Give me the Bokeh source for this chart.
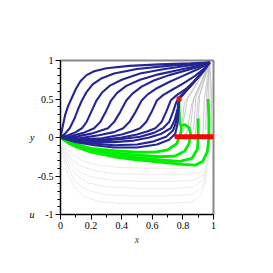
from bokeh.plotting import figure
from bokeh.models import FixedTicker, LinearAxis, Range1d
from bokeh.embed import file_html
from bokeh.resources import INLINE

# ---- data ----
blue_x = [
    [0, 0.015, 0.03, 0.05, 0.075, 0.1, 0.13, 0.17, 0.22, 0.3, 0.45, 0.65, 0.85, 0.975],
    [0, 0.03, 0.06, 0.09, 0.115, 0.14, 0.17, 0.21, 0.27, 0.35, 0.5, 0.7, 0.87, 0.975],
    [0, 0.05, 0.1, 0.14, 0.17, 0.2, 0.235, 0.27, 0.32, 0.4, 0.52, 0.68, 0.84, 0.975],
    [0, 0.07, 0.15, 0.22, 0.26, 0.295, 0.33, 0.37, 0.43, 0.52, 0.64, 0.78, 0.9, 0.975],
    [0, 0.1, 0.2, 0.31, 0.35, 0.39, 0.43, 0.47, 0.53, 0.61, 0.71, 0.82, 0.92, 0.975],
    [0, 0.12, 0.25, 0.35, 0.41, 0.45, 0.49, 0.53, 0.57, 0.63, 0.71, 0.8, 0.9, 0.975],
    [0, 0.13, 0.27, 0.4, 0.47, 0.52, 0.56, 0.595, 0.63, 0.67, 0.73, 0.8, 0.88, 0.935, 0.975],
    [0, 0.13, 0.27, 0.4, 0.5, 0.57, 0.62, 0.66, 0.69, 0.72, 0.76, 0.82, 0.88, 0.935, 0.975],
    [0, 0.13, 0.27, 0.4, 0.52, 0.61, 0.67, 0.71, 0.735, 0.755, 0.775, 0.81, 0.86, 0.92, 0.975],
    [0, 0.1, 0.22, 0.35, 0.48, 0.58, 0.66, 0.72, 0.745, 0.765, 0.775, 0.81, 0.86, 0.92, 0.975],
    [0, 0.1, 0.22, 0.35, 0.5, 0.61, 0.69, 0.735, 0.755, 0.768, 0.775, 0.81, 0.86, 0.92, 0.975],
    [0, 0.1, 0.22, 0.35, 0.5, 0.63, 0.71, 0.75, 0.765, 0.772, 0.775, 0.81, 0.86, 0.92, 0.975],
]
blue_y = [
    [0, 0.15, 0.29, 0.41, 0.52, 0.63, 0.73, 0.81, 0.86, 0.9, 0.93, 0.95, 0.965, 0.975],
    [0, 0.05, 0.12, 0.24, 0.37, 0.48, 0.59, 0.69, 0.77, 0.83, 0.89, 0.93, 0.955, 0.975],
    [0, 0.03, 0.07, 0.12, 0.2, 0.33, 0.48, 0.58, 0.67, 0.75, 0.83, 0.89, 0.935, 0.975],
    [0, 0.02, 0.06, 0.12, 0.2, 0.33, 0.48, 0.58, 0.67, 0.75, 0.82, 0.88, 0.93, 0.975],
    [0, 0.01, 0.05, 0.12, 0.2, 0.33, 0.48, 0.57, 0.66, 0.74, 0.81, 0.87, 0.93, 0.975],
    [0, -0.01, 0.03, 0.07, 0.12, 0.2, 0.33, 0.48, 0.56, 0.64, 0.72, 0.8, 0.89, 0.975],
    [0, -0.02, -0.01, 0.04, 0.08, 0.12, 0.2, 0.33, 0.48, 0.55, 0.62, 0.7, 0.8, 0.89, 0.975],
    [0, -0.03, -0.03, 0.0, 0.04, 0.08, 0.12, 0.2, 0.33, 0.48, 0.55, 0.63, 0.74, 0.86, 0.975],
    [0, -0.035, -0.04, -0.02, 0.01, 0.06, 0.12, 0.2, 0.33, 0.45, 0.52, 0.59, 0.7, 0.84, 0.975],
    [0, -0.04, -0.06, -0.06, -0.04, 0.0, 0.05, 0.12, 0.22, 0.37, 0.5, 0.58, 0.69, 0.83, 0.975],
    [0, -0.05, -0.08, -0.1, -0.09, -0.05, 0.01, 0.09, 0.2, 0.35, 0.5, 0.58, 0.69, 0.83, 0.975],
    [0, -0.06, -0.1, -0.13, -0.13, -0.09, -0.03, 0.05, 0.18, 0.34, 0.5, 0.58, 0.69, 0.83, 0.975],
]

green_x = [
    [0, 0.05, 0.1, 0.2, 0.35, 0.5, 0.62, 0.7, 0.76, 0.785, 0.79, 0.78, 0.775, 0.775],
    [0, 0.05, 0.1, 0.2, 0.35, 0.5, 0.65, 0.75, 0.81, 0.84, 0.85, 0.84, 0.81, 0.795],
    [0, 0.05, 0.1, 0.2, 0.35, 0.5, 0.65, 0.78, 0.86, 0.895, 0.9, 0.9],
    [0, 0.05, 0.1, 0.2, 0.35, 0.5, 0.65, 0.8, 0.88, 0.93, 0.96, 0.97, 0.97, 0.965],
]
green_y = [
    [0, -0.05, -0.09, -0.14, -0.17, -0.19, -0.19, -0.16, -0.08, 0.05, 0.12, 0.2, 0.35, 0.48],
    [0, -0.06, -0.1, -0.16, -0.2, -0.23, -0.25, -0.24, -0.18, -0.08, 0.05, 0.13, 0.17, 0.15],
    [0, -0.065, -0.11, -0.18, -0.23, -0.26, -0.29, -0.31, -0.27, -0.15, 0.0, 0.25],
    [0, -0.07, -0.12, -0.19, -0.25, -0.29, -0.32, -0.35, -0.36, -0.31, -0.18, 0.0, 0.25, 0.5],
]

gray_x = [
    [0, 0.03, 0.08, 0.15, 0.25, 0.4, 0.6, 0.8, 0.9, 0.95, 0.975, 0.985, 0.99, 0.985, 0.975],
    [0, 0.03, 0.07, 0.13, 0.22, 0.35, 0.55, 0.8, 0.9, 0.945, 0.97, 0.98, 0.985, 0.98, 0.975],
    [0, 0.03, 0.07, 0.12, 0.2, 0.32, 0.5, 0.75, 0.88, 0.935, 0.96, 0.975, 0.98, 0.978, 0.975],
    [0, 0.025, 0.06, 0.11, 0.18, 0.3, 0.5, 0.75, 0.87, 0.925, 0.955, 0.97, 0.975, 0.975, 0.975],
    [0, 0.025, 0.06, 0.1, 0.17, 0.28, 0.45, 0.7, 0.86, 0.92, 0.95, 0.965, 0.97, 0.972, 0.975],
    [0, 0.02, 0.05, 0.09, 0.15, 0.25, 0.4, 0.65, 0.85, 0.915, 0.945, 0.96, 0.965, 0.97, 0.975],
]
gray_y = [
    [0, -0.12, -0.23, -0.31, -0.36, -0.39, -0.4, -0.4, -0.38, -0.33, -0.22, -0.05, 0.3, 0.7, 0.975],
    [0, -0.15, -0.28, -0.37, -0.43, -0.47, -0.48, -0.48, -0.46, -0.4, -0.28, -0.1, 0.3, 0.7, 0.975],
    [0, -0.18, -0.33, -0.44, -0.51, -0.55, -0.57, -0.57, -0.55, -0.48, -0.35, -0.12, 0.3, 0.7, 0.975],
    [0, -0.2, -0.37, -0.5, -0.59, -0.64, -0.66, -0.66, -0.64, -0.56, -0.42, -0.15, 0.3, 0.7, 0.975],
    [0, -0.24, -0.44, -0.58, -0.68, -0.74, -0.76, -0.76, -0.74, -0.66, -0.5, -0.2, 0.3, 0.7, 0.975],
    [0, -0.26, -0.48, -0.64, -0.76, -0.83, -0.86, -0.86, -0.84, -0.76, -0.6, -0.25, 0.3, 0.7, 0.975],
]

fan_x = [
    [0.8, 0.83, 0.975], [0.85, 0.87, 0.975], [0.9, 0.91, 0.975], [0.965, 0.965, 0.975],
    [0.82, 0.86, 0.975], [0.88, 0.9, 0.975], [0.93, 0.94, 0.975], [0.79, 0.81, 0.975],
    [0.87, 0.885, 0.975], [0.95, 0.955, 0.975], [0.99, 0.985, 0.975],
]
fan_y = [
    [0.17, 0.5, 0.975], [0.13, 0.5, 0.975], [0.25, 0.55, 0.975], [0.5, 0.7, 0.975],
    [0.0, 0.45, 0.975], [0.0, 0.5, 0.975], [0.0, 0.5, 0.975], [0.1, 0.45, 0.975],
    [0.1, 0.52, 0.975], [0.1, 0.55, 0.975], [0.1, 0.6, 0.975],
]

red_line_x = [0.76, 1.0]
red_line_y = [0.01, 0.01]
red_dot_x = [0.775]
red_dot_y = [0.5]

x_ticks = [0, 0.2, 0.4, 0.6, 0.8, 1]
x_minor = [0.1, 0.3, 0.5, 0.7, 0.9]
x_labels = ["0", "0.2", "0.4", "0.6", "0.8", "1"]
y_ticks = [-1, -0.5, 0, 0.5, 1]
y_minor = [-0.9, -0.8, -0.7, -0.6, -0.4, -0.3, -0.2, -0.1, 0.1, 0.2, 0.3, 0.4, 0.6, 0.7, 0.8, 0.9]
y_labels = ["-1", "-0.5", "0", "0.5", "1"]
side_ticks = [0, -1]
side_labels = ["y", "u"]
x_title = "x"

FONT = "Liberation Serif"

p = figure(width=265, height=264, x_range=Range1d(0, 1), y_range=Range1d(-1, 1),
           output_backend="svg", toolbar_location=None,
           min_border_left=60, min_border_right=52, min_border_top=60, min_border_bottom=50)
p.grid.visible = False
p.outline_line_color = "#888888"
p.outline_line_width = 2
p.background_fill_color = "white"

for ax in (p.xaxis[0], p.yaxis[0]):
    ax.axis_line_color = "black"
    ax.major_tick_line_color = "black"
    ax.minor_tick_line_color = "black"
    ax.major_tick_in = 0
    ax.major_tick_out = 5
    ax.minor_tick_in = 0
    ax.minor_tick_out = 3
    ax.major_label_text_font = FONT
    ax.major_label_text_font_size = "10px"
    ax.major_label_text_color = "black"
    ax.major_label_standoff = 2

p.xaxis.ticker = FixedTicker(ticks=x_ticks, minor_ticks=x_minor)
p.yaxis.ticker = FixedTicker(ticks=y_ticks, minor_ticks=y_minor)
p.xaxis.major_label_overrides = {t: l for t, l in zip(x_ticks, x_labels)}
p.yaxis.major_label_overrides = {t: l for t, l in zip(y_ticks, y_labels)}
p.xaxis.axis_label = x_title
p.xaxis.axis_label_text_font = FONT
p.xaxis.axis_label_text_font_size = "10px"
p.xaxis.axis_label_text_font_style = "italic"
p.xaxis.axis_label_standoff = 2

# extra left axis carrying the italic side labels "y" and "u"
side = LinearAxis(ticker=FixedTicker(ticks=side_ticks, minor_ticks=[]),
                  major_label_overrides={t: l for t, l in zip(side_ticks, side_labels)},
                  axis_line_color=None, major_tick_line_color=None, minor_tick_line_color=None,
                  major_tick_in=0, major_tick_out=0, minor_tick_in=0, minor_tick_out=0,
                  major_label_standoff=0, major_label_text_font=FONT,
                  major_label_text_font_size="10px", major_label_text_font_style="italic",
                  major_label_text_color="black")
p.add_layout(side, "left")

p.multi_line(gray_x, gray_y, line_color="#ebebeb", line_width=1)
p.multi_line(fan_x, fan_y, line_color="#bdbdbd", line_width=0.8)
p.multi_line(green_x, green_y, line_color="#00ee00", line_width=2.8)
p.multi_line(blue_x, blue_y, line_color="#252595", line_width=2.1)
p.line(red_line_x, red_line_y, line_color="#ff0000", line_width=5, line_cap="round")
p.scatter(red_dot_x, red_dot_y, marker="square", size=4, color="#ee1111")

open("out.html", "w").write(file_html(p, INLINE))
